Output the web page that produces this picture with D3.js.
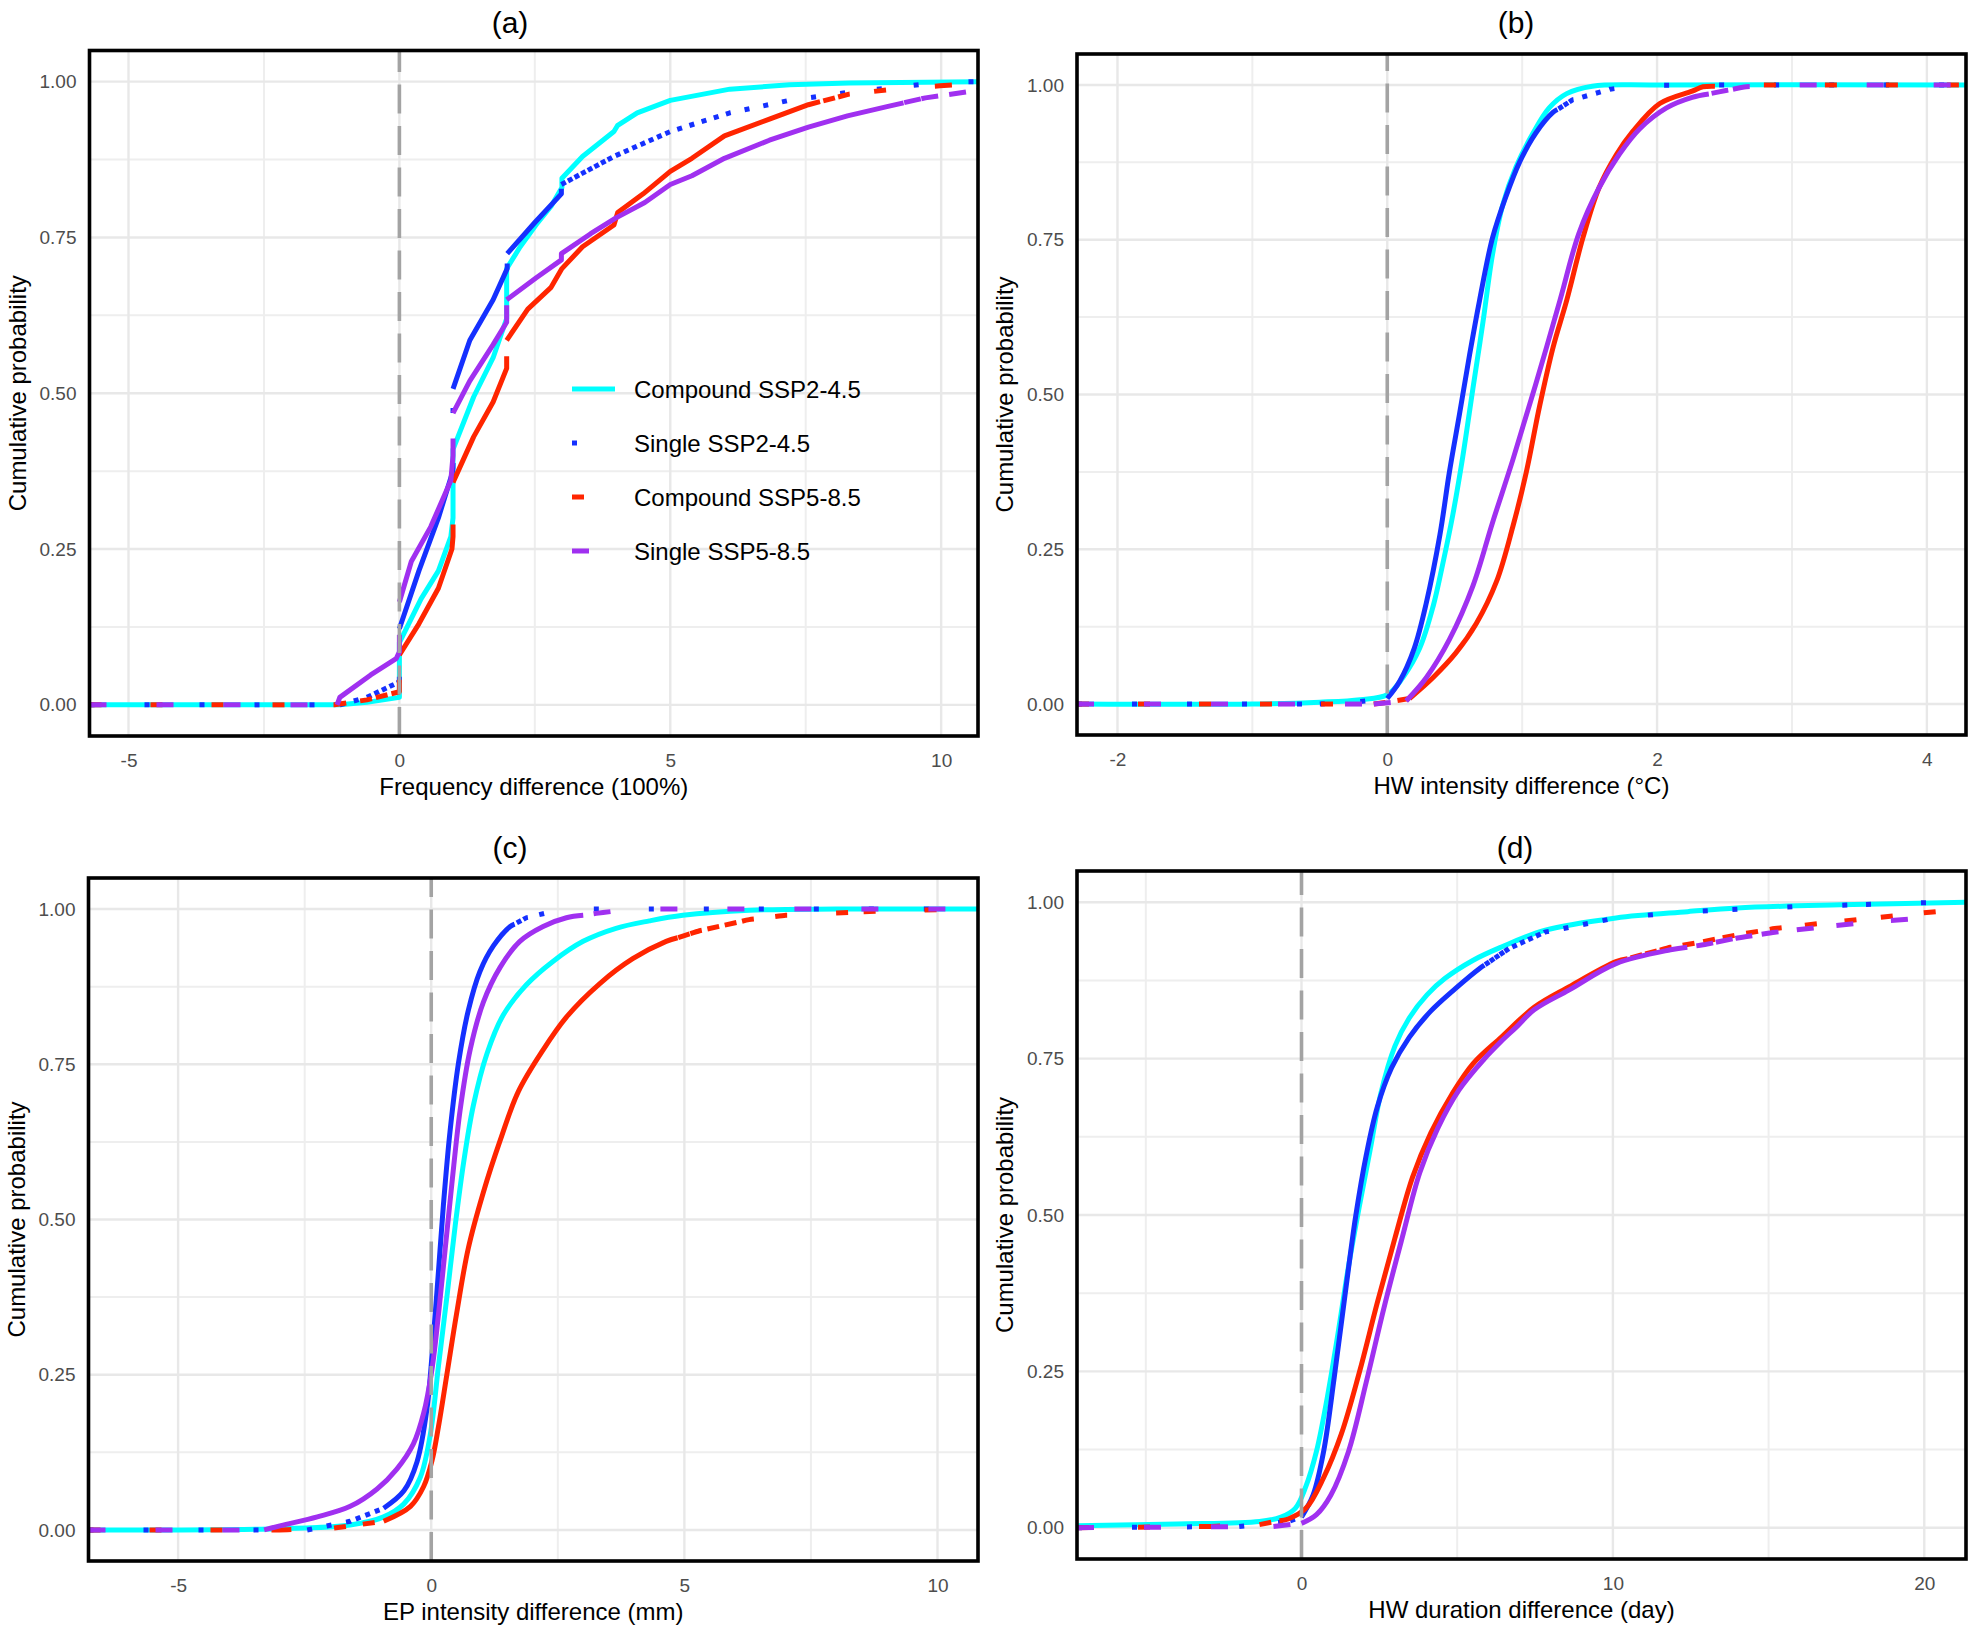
<!DOCTYPE html>
<html><head><meta charset="utf-8">
<script src="https://cdn.jsdelivr.net/npm/d3@7/dist/d3.min.js"></script>
<style>
body{margin:0;background:#fff;}
svg{display:block;}
text{font-family:"Liberation Sans",Arial,Helvetica,sans-serif;}
</style>
</head><body>
<svg id="chart" width="1976" height="1632"></svg>
<script>
// ---------------- DATA ----------------
const seriesNames = ["Compound SSP2-4.5", "Single SSP2-4.5", "Compound SSP5-8.5", "Single SSP5-8.5"];
const panelTitles = ["(a)", "(b)", "(c)", "(d)"];
const xAxisTitles = ["Frequency difference (100%)", "HW intensity difference (\u00B0C)", "EP intensity difference (mm)", "HW duration difference (day)"];
const yAxisTitle = "Cumulative probability";
const yTicks = [0, 0.25, 0.5, 0.75, 1];
const xTicksA = [-5, 0, 5, 10];
const xTicksB = [-2, 0, 2, 4];
const xTicksC = [-5, 0, 5, 10];
const xTicksD = [0, 10, 20];

// (a) Frequency difference: [x, cumulative probability]
const freqComp245 = [[-5.72,0],[-1.1,0],[-0.6,0.004],[0,0.012],[0,0.10],[0.4,0.17],[0.72,0.215],[0.95,0.27],[0.99,0.30],[0.99,0.41],[1.37,0.494],[1.73,0.557],[1.98,0.62],[1.98,0.70],[2.23,0.735],[2.52,0.77],[2.8,0.80],[3.0,0.83],[3.0,0.845],[3.38,0.88],[3.67,0.90],[3.96,0.92],[4.03,0.93],[4.39,0.95],[5.0,0.97],[6.1,0.988],[7.2,0.995],[8.3,0.998],[10.68,1.0]];
const freqSing245 = [[-5.72,0],[-1.1,0],[-0.6,0.012],[0,0.037],[0,0.122],[0.36,0.215],[0.72,0.30],[0.97,0.37],[0.99,0.38],[0.99,0.507],[1.3,0.585],[1.73,0.65],[1.99,0.70],[1.99,0.724],[2.5,0.774],[2.99,0.82],[2.99,0.835],[3.96,0.88],[5.0,0.92],[6.1,0.95],[7.2,0.97],[8.3,0.983],[10.0,0.999],[10.68,1.0]];
const freqComp585 = [[-5.72,0],[-1.2,0],[-0.6,0.008],[0,0.021],[0,0.08],[0.36,0.13],[0.72,0.187],[0.97,0.25],[0.99,0.27],[0.99,0.357],[1.37,0.43],[1.73,0.486],[1.98,0.54],[1.98,0.585],[2.37,0.635],[2.8,0.67],[3.0,0.70],[3.38,0.735],[3.96,0.77],[4.03,0.79],[4.5,0.82],[5.0,0.856],[5.4,0.877],[6.0,0.913],[6.83,0.94],[7.55,0.963],[8.3,0.98],[9.35,0.99],[10.68,0.997]];
const freqSing585 = [[-5.72,0],[-1.15,0],[-1.1,0.012],[-0.53,0.048],[-0.06,0.074],[0,0.085],[0,0.165],[0.22,0.23],[0.58,0.286],[0.83,0.336],[0.95,0.36],[0.99,0.40],[0.99,0.468],[1.3,0.52],[1.73,0.578],[1.98,0.614],[1.98,0.65],[2.52,0.685],[2.99,0.714],[2.99,0.724],[3.53,0.756],[3.99,0.781],[4.53,0.806],[5.0,0.835],[5.4,0.849],[6.0,0.877],[6.83,0.906],[7.55,0.927],[8.27,0.945],[9.0,0.96],[9.71,0.974],[10.68,0.986]];

// (b) HW intensity difference
const hwiComp245 = [[-2.3,0],[-1.0,0],[-0.5,0.003],[-0.2,0.007],[0,0.015],[0.116,0.043],[0.24,0.09],[0.34,0.158],[0.41,0.225],[0.486,0.306],[0.56,0.40],[0.635,0.51],[0.71,0.618],[0.78,0.726],[0.857,0.807],[0.955,0.868],[1.08,0.922],[1.2,0.963],[1.33,0.986],[1.52,0.998],[2.0,1.0],[4.29,1.0]];
const hwiSing245 = [[-2.3,0],[-0.5,0],[-0.2,0.004],[0,0.009],[0.09,0.036],[0.2,0.09],[0.29,0.164],[0.39,0.273],[0.46,0.374],[0.536,0.469],[0.61,0.564],[0.684,0.652],[0.78,0.753],[0.88,0.82],[0.98,0.875],[1.1,0.922],[1.23,0.956],[1.375,0.976],[1.65,0.993],[1.84,0.999],[2.26,1.0],[4.29,1.0]];
const hwiComp585 = [[-2.3,0],[-0.1,0],[0,0.003],[0.165,0.009],[0.34,0.043],[0.51,0.083],[0.66,0.13],[0.81,0.198],[0.93,0.286],[1.03,0.374],[1.13,0.482],[1.23,0.577],[1.33,0.652],[1.45,0.753],[1.57,0.834],[1.7,0.888],[1.82,0.925],[2.02,0.97],[2.26,0.99],[2.34,0.997],[2.6,1.0],[4.29,1.0]];
const hwiSing585 = [[-2.3,0],[-0.1,0],[0.14,0.005],[0.29,0.043],[0.46,0.104],[0.635,0.191],[0.78,0.293],[0.93,0.394],[1.10,0.516],[1.28,0.652],[1.42,0.76],[1.57,0.834],[1.72,0.888],[1.87,0.929],[2.07,0.963],[2.26,0.98],[2.51,0.991],[2.66,0.997],[2.9,1.0],[4.29,1.0]];

// (c) EP intensity difference
const epiComp245 = [[-6.77,0],[-3.0,0.002],[-1.6,0.008],[-0.94,0.021],[-0.54,0.042],[-0.22,0.084],[-0.02,0.153],[0.144,0.265],[0.31,0.376],[0.47,0.488],[0.64,0.592],[0.83,0.683],[1.1,0.767],[1.42,0.829],[1.88,0.878],[2.41,0.916],[3.0,0.948],[3.65,0.969],[4.31,0.981],[4.97,0.99],[6.28,0.998],[8.0,1.0],[10.8,1.0]];
const epiSing245 = [[-6.77,0],[-2.45,0],[-1.6,0.014],[-0.94,0.035],[-0.54,0.063],[-0.28,0.11],[-0.085,0.195],[0.046,0.314],[0.144,0.418],[0.24,0.523],[0.37,0.641],[0.54,0.753],[0.73,0.836],[0.96,0.899],[1.23,0.941],[1.56,0.972],[1.88,0.986],[2.34,0.995],[3.13,1.0],[10.8,1.0]];
const epiComp585 = [[-6.77,0],[-3.0,0],[-1.92,0.003],[-0.94,0.014],[-0.41,0.038],[-0.15,0.07],[0.013,0.111],[0.144,0.167],[0.31,0.251],[0.5,0.348],[0.73,0.453],[1.03,0.544],[1.36,0.627],[1.72,0.706],[2.2,0.772],[2.67,0.826],[3.33,0.88],[3.98,0.92],[4.64,0.948],[5.3,0.965],[6.28,0.983],[7.0,0.99],[8.9,0.997],[10.8,1.0]];
const epiSing585 = [[-6.77,0],[-3.3,0],[-2.97,0.007],[-2.25,0.021],[-1.6,0.038],[-1.07,0.066],[-0.68,0.098],[-0.35,0.139],[-0.15,0.188],[0.013,0.258],[0.144,0.348],[0.276,0.453],[0.407,0.557],[0.57,0.676],[0.77,0.774],[1.03,0.85],[1.36,0.906],[1.75,0.948],[2.21,0.972],[2.67,0.986],[3.26,0.993],[3.65,0.997],[4.5,1.0],[10.8,1.0]];

// (d) HW duration difference
const hwdComp245 = [[-7.21,0.003],[-4.0,0.006],[-1.35,0.010],[-0.66,0.017],[-0.2,0.031],[0.14,0.066],[0.48,0.122],[0.82,0.206],[1.17,0.31],[1.5,0.415],[1.85,0.512],[2.2,0.603],[2.54,0.693],[3.0,0.77],[3.46,0.815],[4.03,0.852],[4.6,0.878],[5.5,0.907],[6.4,0.928],[7.8,0.955],[10.1,0.975],[12.4,0.985],[14.0,0.991],[17.3,0.996],[21.34,1.0]];
const hwdSing245 = [[-7.21,0],[-2.0,0.002],[-0.43,0.01],[0,0.017],[0.37,0.052],[0.71,0.122],[1.05,0.24],[1.4,0.373],[1.74,0.498],[2.08,0.596],[2.43,0.672],[2.89,0.735],[3.46,0.784],[4.15,0.826],[4.94,0.862],[5.74,0.895],[6.66,0.926],[7.8,0.952],[10.1,0.975],[12.4,0.985],[15.8,0.993],[20.5,1.0],[21.34,1.0]];
const hwdComp585 = [[-7.21,0],[-3.0,0.002],[-1.35,0.005],[-0.43,0.014],[0.14,0.031],[0.71,0.08],[1.28,0.15],[1.85,0.247],[2.43,0.359],[3.0,0.463],[3.57,0.561],[4.15,0.631],[4.83,0.693],[5.51,0.742],[6.43,0.785],[7.47,0.832],[8.6,0.865],[10.1,0.905],[11.85,0.928],[12.9,0.937],[14.0,0.948],[15.2,0.958],[16.8,0.967],[18.4,0.975],[19.5,0.981],[20.8,0.987]];
const hwdSing585 = [[-7.21,0],[-0.9,0.002],[0,0.007],[0.48,0.021],[0.94,0.052],[1.51,0.122],[2.08,0.233],[2.65,0.352],[3.23,0.463],[3.8,0.568],[4.37,0.638],[5.06,0.70],[5.86,0.749],[6.4,0.777],[6.89,0.80],[7.47,0.828],[8.6,0.860],[10.1,0.902],[11.85,0.924],[12.9,0.932],[14.0,0.943],[15.2,0.952],[16.8,0.961],[18.4,0.969],[19.5,0.973],[20.96,0.977]];

// ---------------- STYLE / LAYOUT ----------------
const COLORS = ["#00FFFF", "#1530FF", "#FF2500", "#A030F0"];
const DASHES = [null, [5, 50], [12, 49], [17, 50]];
const LINE_W = 5;
const SAMPLE_C = 4; // px: emulates sample spacing so dense parts render solid

const panels = [
  {box: [89.5, 50.5, 978, 736], domain: [-5.72, 10.68], ticks: xTicksA, titleX: 510, titleY: 33, smooth: false, series: [freqComp245, freqSing245, freqComp585, freqSing585], legend: true},
  {box: [1077, 54, 1966, 735], domain: [-2.3, 4.29], ticks: xTicksB, titleX: 1516, titleY: 33, smooth: true, series: [hwiComp245, hwiSing245, hwiComp585, hwiSing585]},
  {box: [88.5, 878, 978, 1561], domain: [-6.77, 10.8], ticks: xTicksC, titleX: 510, titleY: 858, smooth: true, series: [epiComp245, epiSing245, epiComp585, epiSing585]},
  {box: [1077, 871, 1966, 1559], domain: [-7.21, 21.34], ticks: xTicksD, titleX: 1515, titleY: 858, smooth: true, series: [hwdComp245, hwdSing245, hwdComp585, hwdSing585]}
];

const svg = d3.select("#chart");
svg.append("rect").attr("width", 1976).attr("height", 1632).attr("fill", "#fff");
const defs = svg.append("defs");
const lineSmooth = d3.line().x(p => p.x).y(p => p.y).curve(d3.curveCatmullRom.alpha(0.5));
const lineStraight = d3.line().x(p => p.x).y(p => p.y);

// Build dashed runs: dash pattern restarts at every "sample step"; steep parts have
// short steps (solid), flat parts long steps (dash pattern visible), jumps are one step.
function dashRuns(pts, pattern) {
  if (!pattern) return [pts];
  const on = pattern[0], P = pattern[0] + pattern[1];
  const runs = [];
  let cur = null, u = 0;
  const near = (p, q) => Math.abs(p.x - q.x) < 1e-6 && Math.abs(p.y - q.y) < 1e-6;
  const addOn = (p0, p1) => {
    if (cur && near(cur[cur.length - 1], p0)) cur.push(p1);
    else { cur = [p0, p1]; runs.push(cur); }
  };
  for (let i = 0; i < pts.length - 1; i++) {
    const a = pts[i], b = pts[i + 1];
    const dx = b.x - a.x, dy = b.y - a.y, L = Math.hypot(dx, dy);
    if (L < 1e-9) continue;
    const vertical = a.v === b.v;
    let s;
    if (vertical) { s = L; u = 0; }
    else { const k = Math.abs(dy / dx); s = k > 0 ? SAMPLE_C / k : Infinity; }
    if (!vertical && s <= on) { addOn({x: a.x, y: a.y}, {x: b.x, y: b.y}); u = 0; continue; }
    let t = 0;
    while (t < L - 1e-9) {
      if (u >= s) u = 0;
      const phase = u % P;
      let step, isOn;
      if (phase < on) { isOn = true; step = on - phase; } else { isOn = false; step = P - phase; }
      step = Math.min(step, s - u, L - t);
      if (step <= 1e-9) { u = s; continue; }
      if (isOn) {
        const f0 = t / L, f1 = (t + step) / L;
        addOn({x: a.x + dx * f0, y: a.y + dy * f0}, {x: a.x + dx * f1, y: a.y + dy * f1});
      } else cur = null;
      t += step; u += step;
    }
    if (vertical) u = 0;
  }
  return runs;
}

function drawSeries(g, pts, idx, smooth) {
  const runs = dashRuns(pts, DASHES[idx]);
  const gen = smooth ? lineSmooth : lineStraight;
  g.selectAll(null).data(runs).enter().append("path")
    .attr("d", r => gen(r))
    .attr("fill", "none")
    .attr("stroke", COLORS[idx])
    .attr("stroke-width", LINE_W)
    .attr("stroke-linecap", "butt")
    .attr("stroke-linejoin", "round");
}

panels.forEach((pn, pi) => {
  const [x0, y0, x1, y1] = pn.box;
  const x = d3.scaleLinear().domain(pn.domain).range([x0, x1]);
  const y = d3.scaleLinear().domain([-0.05, 1.05]).range([y1, y0]);
  const g = svg.append("g");

  // grid: minor then major
  const step = pn.ticks[1] - pn.ticks[0];
  const half = step / 2;
  const xMinor = [];
  for (let n = Math.ceil(pn.domain[0] / half); n * half <= pn.domain[1]; n++) if (Math.abs(n) % 2 === 1) xMinor.push(n * half);
  const yMinor = [0.125, 0.375, 0.625, 0.875];
  const grid = g.append("g");
  grid.selectAll(null).data(xMinor).enter().append("line")
    .attr("x1", d => x(d)).attr("x2", d => x(d)).attr("y1", y0).attr("y2", y1)
    .attr("stroke", "#EEEEEE").attr("stroke-width", 2);
  grid.selectAll(null).data(yMinor).enter().append("line")
    .attr("y1", d => y(d)).attr("y2", d => y(d)).attr("x1", x0).attr("x2", x1)
    .attr("stroke", "#EEEEEE").attr("stroke-width", 2);
  grid.selectAll(null).data(pn.ticks).enter().append("line")
    .attr("x1", d => x(d)).attr("x2", d => x(d)).attr("y1", y0).attr("y2", y1)
    .attr("stroke", "#E8E8E8").attr("stroke-width", 2.4);
  grid.selectAll(null).data(yTicks).enter().append("line")
    .attr("y1", d => y(d)).attr("y2", d => y(d)).attr("x1", x0).attr("x2", x1)
    .attr("stroke", "#E8E8E8").attr("stroke-width", 2.4);

  // clip
  const cid = "clip" + pi;
  defs.append("clipPath").attr("id", cid).append("rect")
    .attr("x", x0).attr("y", y0).attr("width", x1 - x0).attr("height", y1 - y0);
  const plot = g.append("g").attr("clip-path", `url(#${cid})`);

  pn.series.forEach((data, si) => {
    const pts = data.map(d => ({x: x(d[0]), y: y(d[1]), v: d[0]}));
    drawSeries(plot.append("g"), pts, si, pn.smooth);
  });

  // reference dashed line at 0 (drawn from bottom to top)
  plot.append("line")
    .attr("x1", x(0)).attr("x2", x(0)).attr("y1", y1).attr("y2", y0)
    .attr("stroke", "#A3A3A3").attr("stroke-width", 3.6)
    .attr("stroke-dasharray", "29,12.5");

  // border
  g.append("rect").attr("x", x0).attr("y", y0).attr("width", x1 - x0).attr("height", y1 - y0)
    .attr("fill", "none").attr("stroke", "#000").attr("stroke-width", 3.6);

  // axes
  const ax = g.append("g").attr("transform", `translate(0,${y1})`)
    .call(d3.axisBottom(x).tickValues(pn.ticks).tickSize(0).tickPadding(18).tickFormat(d => String(d)));
  const ay = g.append("g").attr("transform", `translate(${x0},0)`)
    .call(d3.axisLeft(y).tickValues(yTicks).tickSize(0).tickPadding(13).tickFormat(d3.format(".2f")));
  [ax, ay].forEach(a => {
    a.select(".domain").remove();
    a.selectAll("text").attr("font-family", "Liberation Sans, Arial, sans-serif")
      .attr("font-size", 19).attr("fill", "#4D4D4D");
  });

  // titles
  g.append("text").attr("x", pn.titleX).attr("y", pn.titleY).attr("text-anchor", "middle")
    .attr("font-size", 30).attr("fill", "#000").text(panelTitles[pi]);
  g.append("text").attr("x", (x0 + x1) / 2).attr("y", y1 + 59).attr("text-anchor", "middle")
    .attr("font-size", 24).attr("fill", "#000").text(xAxisTitles[pi]);
  g.append("text").attr("transform", `translate(${x0 - 64},${(y0 + y1) / 2}) rotate(-90)`)
    .attr("text-anchor", "middle").attr("font-size", 24).attr("fill", "#000").text(yAxisTitle);

  // legend
  if (pn.legend) {
    const lg = g.append("g");
    const rowsY = [389, 443, 497, 551];
    seriesNames.forEach((name, si) => {
      const ky = rowsY[si];
      const kpts = [{x: 572, y: ky, v: 0}, {x: 615, y: ky, v: 1}];
      drawSeries(lg.append("g"), kpts, si, false);
      lg.append("text").attr("x", 634).attr("y", ky).attr("dy", "0.36em")
        .attr("font-size", 24).attr("fill", "#000").text(name);
    });
  }
});
</script>
</body></html>
